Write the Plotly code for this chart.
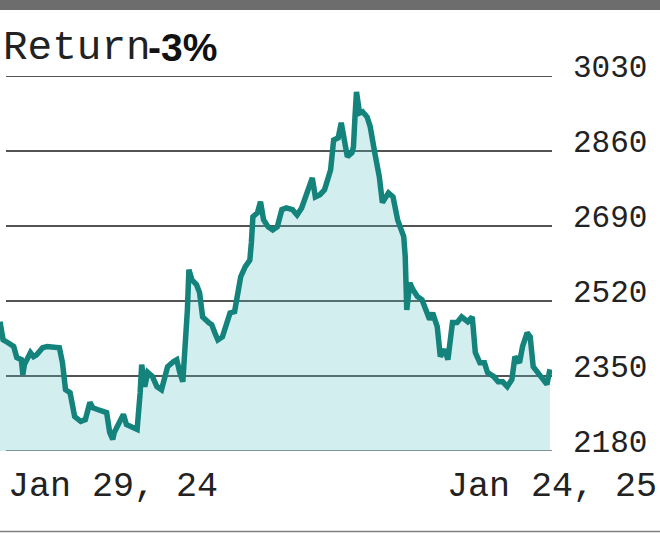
import plotly.graph_objects as go

dates = [
    "2024-01-29", "2024-01-31", "2024-02-03", "2024-02-07", "2024-02-09", "2024-02-12",
    "2024-02-13", "2024-02-14", "2024-02-18", "2024-02-20", "2024-02-22", "2024-02-26",
    "2024-02-29", "2024-03-04", "2024-03-08", "2024-03-10", "2024-03-12", "2024-03-15",
    "2024-03-18", "2024-03-22", "2024-03-25", "2024-03-28", "2024-03-30", "2024-04-02",
    "2024-04-06", "2024-04-08", "2024-04-10", "2024-04-12", "2024-04-13", "2024-04-17",
    "2024-04-19", "2024-04-21", "2024-04-25", "2024-04-28", "2024-04-30", "2024-05-01",
    "2024-05-03", "2024-05-05", "2024-05-08", "2024-05-11", "2024-05-14", "2024-05-16",
    "2024-05-18", "2024-05-22", "2024-05-24", "2024-05-26", "2024-05-28", "2024-05-31",
    "2024-06-01", "2024-06-03", "2024-06-06", "2024-06-08", "2024-06-10", "2024-06-14",
    "2024-06-16", "2024-06-18", "2024-06-20", "2024-06-23", "2024-06-26", "2024-06-28",
    "2024-07-01", "2024-07-03", "2024-07-05", "2024-07-08", "2024-07-11", "2024-07-12",
    "2024-07-13", "2024-07-16", "2024-07-18", "2024-07-20", "2024-07-23", "2024-07-26",
    "2024-07-29", "2024-08-01", "2024-08-04", "2024-08-08", "2024-08-11", "2024-08-14",
    "2024-08-18", "2024-08-21", "2024-08-23", "2024-08-26", "2024-08-29", "2024-08-31",
    "2024-09-02", "2024-09-04", "2024-09-07", "2024-09-09", "2024-09-11", "2024-09-13",
    "2024-09-16", "2024-09-17", "2024-09-18", "2024-09-19", "2024-09-21", "2024-09-23",
    "2024-09-26", "2024-09-28", "2024-10-01", "2024-10-04", "2024-10-06", "2024-10-10",
    "2024-10-13", "2024-10-16", "2024-10-20", "2024-10-21", "2024-10-22", "2024-10-24",
    "2024-10-26", "2024-10-29", "2024-11-01", "2024-11-04", "2024-11-06", "2024-11-08",
    "2024-11-11", "2024-11-13", "2024-11-16", "2024-11-18", "2024-11-21", "2024-11-24",
    "2024-11-27", "2024-12-01", "2024-12-04", "2024-12-06", "2024-12-09", "2024-12-12",
    "2024-12-14", "2024-12-18", "2024-12-21", "2024-12-24", "2024-12-27", "2024-12-30",
    "2025-01-01", "2025-01-04", "2025-01-06", "2025-01-09", "2025-01-11", "2025-01-13",
    "2025-01-16", "2025-01-19", "2025-01-22", "2025-01-24",
]

prices = [
    2473, 2432, 2426, 2417, 2392, 2387,
    2353, 2376, 2403, 2394, 2398, 2414,
    2417, 2414, 2414, 2380, 2319, 2312,
    2258, 2247, 2251, 2290, 2278, 2274,
    2269, 2267, 2222, 2206, 2222, 2251,
    2263, 2240, 2233, 2229, 2312, 2376,
    2326, 2358, 2349, 2326, 2319, 2342,
    2371, 2383, 2387, 2358, 2337, 2500,
    2591, 2568, 2557, 2539, 2484, 2471,
    2466, 2448, 2432, 2439, 2478, 2493,
    2496, 2530, 2575, 2598, 2613, 2652,
    2711, 2720, 2745, 2704, 2688, 2681,
    2688, 2727, 2731, 2727, 2715, 2731,
    2772, 2799, 2756, 2761, 2772, 2801,
    2817, 2885, 2890, 2924, 2890, 2847,
    2856, 2869, 2937, 2994, 2946, 2949,
    2937, 2915, 2856, 2801, 2743, 2765,
    2756, 2704, 2666, 2620, 2500, 2561,
    2546, 2530, 2523, 2500, 2478, 2493,
    2462, 2394, 2410, 2387, 2471, 2471,
    2484, 2473, 2484, 2403, 2380, 2380,
    2358, 2349, 2337, 2337, 2326, 2342,
    2394, 2380, 2417, 2448, 2439, 2371,
    2358, 2342, 2331, 2365,
]

tick_vals = [2180, 2350, 2520, 2690, 2860, 3030]
tick_text = ["2180", "2350", "2520", "2690", "2860", "3030"]
x_labels = ["Jan 29, 24", "Jan 24, 25"]
title_word = "Return"
title_value = "-3%"

LINE = "#13837c"
FILL = "rgba(91,191,195,0.27)"
MONO = "Courier New, Liberation Mono, monospace"

# plot area in pixels: x 0..552, y 76..451
PW, PH = 552.0, 375.0
def px_x(px):
    return px / PW
def px_y(py):
    return (451.0 - py) / PH

fig = go.Figure()
fig.add_trace(go.Scatter(
    x=dates, y=prices, mode="lines",
    line=dict(color=LINE, width=5.5),
    fill="tozeroy", fillcolor=FILL,
    hoverinfo="skip",
))

shapes = []
for v in tick_vals:
    shapes.append(dict(
        type="line", xref="paper", yref="y", x0=px_x(6), x1=1.0, y0=v, y1=v,
        line=dict(color="#888888" if v == tick_vals[0] else "#1a1a1a",
                  width=2 if v == tick_vals[0] else 1.6),
        layer="below",
    ))
# top grey bar and bottom rule
shapes.append(dict(type="rect", xref="paper", yref="paper",
                   x0=px_x(-5), x1=px_x(665), y0=px_y(10), y1=px_y(-5),
                   fillcolor="#6d6d6d", line=dict(width=0), layer="above"))
shapes.append(dict(type="line", xref="paper", yref="paper",
                   x0=px_x(-5), x1=px_x(665), y0=px_y(531.5), y1=px_y(531.5),
                   line=dict(color="#808080", width=1.5), layer="above"))

annotations = [
    dict(text=title_word, xref="paper", yref="paper", x=px_x(1), y=px_y(48),
         xanchor="left", yanchor="middle", showarrow=False,
         font=dict(family=MONO, size=41, color="#222222")),
    dict(text="<b>" + title_value + "</b>", xref="paper", yref="paper",
         x=px_x(146), y=px_y(47), xanchor="left", yanchor="middle", showarrow=False,
         font=dict(family="Liberation Sans, Arial, sans-serif", size=39, color="#111111")),
    dict(text=x_labels[0], xref="paper", yref="paper", x=px_x(6), y=px_y(487),
         xanchor="left", yanchor="middle", showarrow=False,
         font=dict(family=MONO, size=35, color="#222222")),
    dict(text=x_labels[1], xref="paper", yref="paper", x=px_x(659), y=px_y(487),
         xanchor="right", yanchor="middle", showarrow=False,
         font=dict(family=MONO, size=35, color="#222222")),
]

fig.update_layout(
    width=660, height=533,
    margin=dict(l=0, r=108, t=76, b=82, pad=0),
    paper_bgcolor="white", plot_bgcolor="white",
    showlegend=False,
    shapes=shapes, annotations=annotations,
    xaxis=dict(range=["2024-01-29", "2025-01-25 08:00"], showgrid=False,
               zeroline=False, showticklabels=False, ticks="", showline=False),
    yaxis=dict(range=[tick_vals[0], tick_vals[-1]], side="right",
               tickvals=tick_vals, ticktext=tick_text, showgrid=False,
               zeroline=False, ticks="", showline=False,
               ticklabelstandoff=20, ticklabelshift=-10,
               tickfont=dict(family=MONO, size=31, color="#222222")),
)

fig.write_html("out.html")
